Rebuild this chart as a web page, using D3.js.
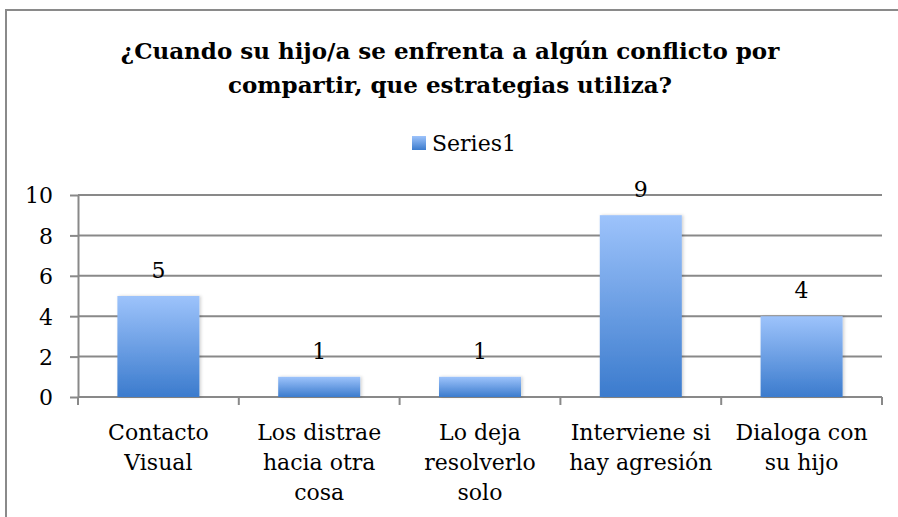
<!DOCTYPE html>
<html>
<head>
<meta charset="utf-8">
<script src="https://cdn.jsdelivr.net/npm/d3@7"></script>
<style>
  body { margin: 0; background: #fff; }
  svg { display: block; }
  text { font-family: "DejaVu Serif", serif; fill: #000; }
</style>
</head>
<body>
<svg id="chart" width="898" height="517"></svg>
<script>
// data
const titleLines = ["¿Cuando su hijo/a se enfrenta a algún conflicto por", "compartir, que estrategias utiliza?"];
const seriesName = "Series1";
const categories = ["Contacto Visual", "Los distrae hacia otra cosa", "Lo deja resolverlo solo", "Interviene si hay agresión", "Dialoga con su hijo"];
const categoryLines = [["Contacto", "Visual"], ["Los distrae", "hacia otra", "cosa"], ["Lo deja", "resolverlo", "solo"], ["Interviene si", "hay agresión"], ["Dialoga con", "su hijo"]];
const values = [5, 1, 1, 9, 4];
const yTicks = [0, 2, 4, 6, 8, 10];

const width = 898, height = 517;
const plot = { left: 78, right: 882, top: 195, bottom: 397 };
const gridColor = "#898989";
const fontFam = "\"DejaVu Serif\", serif";

const svg = d3.select("#chart");

// gradient for bars + legend swatch
const defs = svg.append("defs");
const grad = defs.append("linearGradient")
  .attr("id", "barGrad")
  .attr("x1", 0).attr("y1", 0).attr("x2", 0).attr("y2", 1);
grad.append("stop").attr("offset", "0%").attr("stop-color", "#9dc3fb");
grad.append("stop").attr("offset", "100%").attr("stop-color", "#3b7bcd");

const shadow = defs.append("filter").attr("id", "shadow")
  .attr("x", "-20%").attr("y", "-20%").attr("width", "140%").attr("height", "140%");
shadow.append("feDropShadow")
  .attr("dx", 1.5).attr("dy", 0).attr("stdDeviation", 1.5)
  .attr("flood-color", "#000").attr("flood-opacity", 0.18);

// outer frame (right and bottom edges run off the picture)
svg.append("rect")
  .attr("x", 6).attr("y", 10)
  .attr("width", 1000).attr("height", 600)
  .attr("fill", "none")
  .attr("stroke", "#8a8a8a")
  .attr("stroke-width", 2);

// title
svg.append("text")
  .attr("text-anchor", "middle")
  .style("font-family", fontFam)
  .style("font-weight", "bold")
  .style("font-size", "23px")
  .selectAll("tspan")
  .data(titleLines)
  .join("tspan")
  .attr("x", 450)
  .attr("y", (d, i) => 59 + i * 34)
  .text(d => d);

// legend
svg.append("rect")
  .attr("x", 412).attr("y", 136)
  .attr("width", 14).attr("height", 14)
  .attr("fill", "url(#barGrad)");
svg.append("text")
  .attr("x", 432).attr("y", 151)
  .style("font-family", fontFam)
  .style("font-size", "22px")
  .text(seriesName);

const x = d3.scaleBand()
  .domain(categories)
  .range([plot.left, plot.right])
  .paddingInner(0.49)
  .paddingOuter(0.245);

const y = d3.scaleLinear()
  .domain([0, 10])
  .range([plot.bottom, plot.top]);

// gridlines
svg.append("g")
  .selectAll("line")
  .data(yTicks)
  .join("line")
  .attr("x1", plot.left).attr("x2", plot.right)
  .attr("y1", d => y(d)).attr("y2", d => y(d))
  .attr("stroke", gridColor)
  .attr("stroke-width", 2);

// y axis
const yAxis = svg.append("g")
  .attr("transform", `translate(${plot.left},0)`)
  .call(d3.axisLeft(y).tickValues(yTicks).tickSize(8).tickPadding(17).tickSizeOuter(0));
yAxis.select(".domain").attr("stroke", gridColor).attr("stroke-width", 2);
yAxis.selectAll(".tick line").attr("stroke", gridColor).attr("stroke-width", 2);
yAxis.selectAll(".tick text")
  .style("font-family", fontFam)
  .style("font-size", "22px")
  .attr("fill", "#000")
  .attr("dy", "0.36em");

// x axis category ticks at band edges
const step = x.step();
const edges = d3.range(categories.length + 1).map(i => plot.left + i * step);
svg.append("g")
  .selectAll("line")
  .data(edges)
  .join("line")
  .attr("x1", d => d).attr("x2", d => d)
  .attr("y1", plot.bottom).attr("y2", plot.bottom + 8)
  .attr("stroke", gridColor)
  .attr("stroke-width", 2);

// bars
svg.append("g")
  .selectAll("rect")
  .data(values)
  .join("rect")
  .attr("x", (d, i) => x(categories[i]))
  .attr("y", d => y(d))
  .attr("width", x.bandwidth())
  .attr("height", d => y(0) - y(d))
  .attr("fill", "url(#barGrad)")
  .attr("filter", "url(#shadow)");

// value labels
svg.append("g")
  .selectAll("text")
  .data(values)
  .join("text")
  .attr("x", (d, i) => x(categories[i]) + x.bandwidth() / 2)
  .attr("y", d => y(d) - 18)
  .attr("text-anchor", "middle")
  .style("font-family", fontFam)
  .style("font-size", "22px")
  .text(d => d);

// category labels
svg.append("g")
  .selectAll("text")
  .data(categoryLines)
  .join("text")
  .attr("text-anchor", "middle")
  .style("font-family", fontFam)
  .style("font-size", "22px")
  .each(function(lines, i) {
    d3.select(this).selectAll("tspan")
      .data(lines)
      .join("tspan")
      .attr("x", x(categories[i]) + x.bandwidth() / 2)
      .attr("y", (d, j) => 440 + j * 30)
      .text(d => d);
  });
</script>
</body>
</html>
